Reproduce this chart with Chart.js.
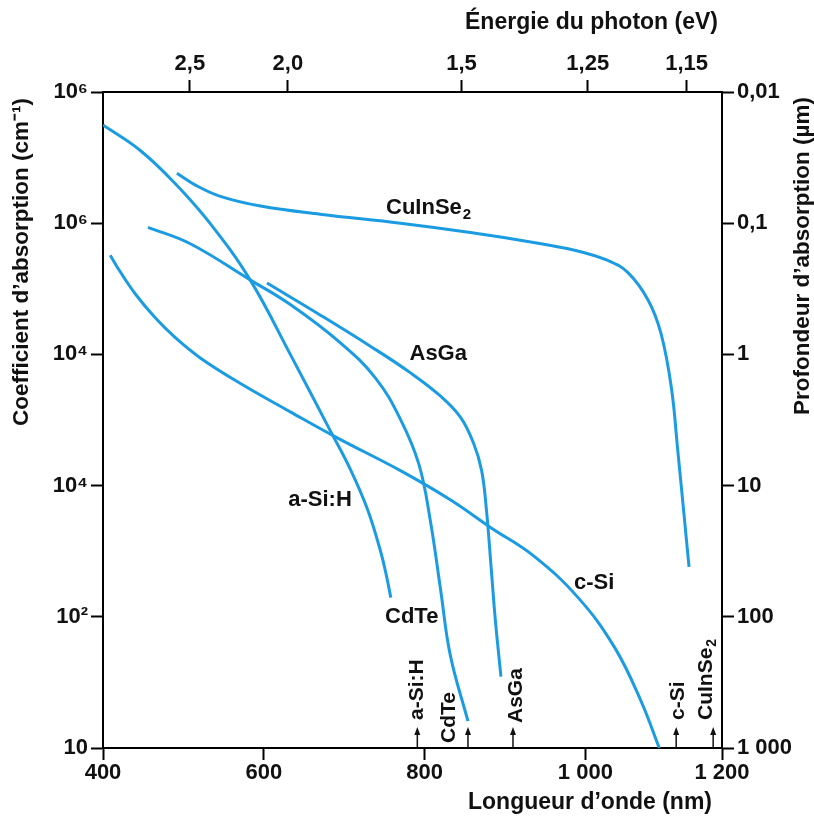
<!DOCTYPE html>
<html>
<head>
<meta charset="utf-8">
<script src="https://cdn.jsdelivr.net/npm/chart.js@4.4.0/dist/chart.umd.min.js"></script>
<style>
  html, body { margin: 0; padding: 0; background: #fff; }
</style>
</head>
<body>
<canvas id="absorption" width="814" height="821"></canvas>
<script>
// wavelength (nm) / absorption coefficient (cm-1)
const aSiHNm = [400, 446, 490, 533, 583, 633, 683, 708, 729, 745, 753, 758];
const aSiHAlpha = [5.6e5, 3.6e5, 2.0e5, 1.0e5, 3.7e4, 1.0e4, 2.6e3, 1.32e3, 660, 320, 200, 140];

const cuInSe2Nm = [492, 515, 546, 596, 670, 770, 857, 932, 988, 1028, 1053, 1078, 1094, 1107, 1115, 1123, 1129];
const cuInSe2Alpha = [2.4e5, 1.95e5, 1.6e5, 1.35e5, 1.17e5, 1.0e5, 8.5e4, 7.2e4, 6.2e4, 5.2e4, 4.2e4, 2.6e4, 1.45e4, 5.6e3, 1.85e3, 580, 240];

const cdTeNm = [456, 508, 583, 633, 695, 739, 770, 793, 807, 820, 832, 854];
const cdTeAlpha = [9.3e4, 7.0e4, 3.7e4, 2.4e4, 1.23e4, 6.6e3, 3.2e3, 1.45e3, 550, 160, 51, 16];

const asGaNm = [604, 670, 733, 783, 820, 845, 861, 871, 877, 883, 888, 895];
const asGaAlpha = [3.5e4, 2.0e4, 1.15e4, 7.2e3, 4.8e3, 3.3e3, 2.1e3, 1.3e3, 650, 230, 95, 35];

const cSiNm = [409, 421, 440, 465, 490, 521, 571, 633, 692, 770, 832, 882, 936, 991, 1036, 1069, 1092];
const cSiAlpha = [5.7e4, 4.3e4, 2.9e4, 1.9e4, 1.34e4, 9.4e3, 6.0e3, 3.65e3, 2.3e3, 1.3e3, 780, 480, 290, 140, 59, 23, 10];

// axes
const wavelengthTicks = [400, 600, 800, 1000, 1170];
const wavelengthLabels = ['400', '600', '800', '1 000', '1 200'];
const energyTicksNm = [508, 630, 846, 1003, 1126];
const energyLabels = ['2,5', '2,0', '1,5', '1,25', '1,15'];
const alphaTicks = [10, 100, 1000, 10000, 100000, 1000000];
const alphaLabels = ['10', '10²', '10⁴', '10⁴', '10⁶', '10⁶'];
const depthLabels = ['1 000', '100', '10', '1', '0,1', '0,01'];

// band gap arrows along the bottom axis
const gapMaterials = ['a-Si:H', 'CdTe', 'AsGa', 'c-Si', 'CuInSe2'];
const gapNm = [791, 854, 910, 1113, 1159];

const FONT = '"Liberation Sans", Arial, sans-serif';
const BLUE = '#1b9ce2';
const INK = '#111';

function toPoints(xs, ys) {
    return xs.map(function (x, i) { return { x: x, y: ys[i] }; });
}

function curve(label, xs, ys) {
    return {
        label: label,
        data: toPoints(xs, ys),
        showLine: true,
        borderColor: BLUE,
        borderWidth: 3,
        pointRadius: 0,
        tension: 0.4,
        fill: false
    };
}

// draws "main" + subscript, starting at x (textAlign left)
function drawWithSub(ctx, main, sub, x, y, size) {
    ctx.font = 'bold ' + size + 'px ' + FONT;
    ctx.fillText(main, x, y);
    if (sub) {
        let w = ctx.measureText(main).width;
        ctx.font = 'bold ' + Math.round(size * 0.68) + 'px ' + FONT;
        ctx.fillText(sub, x + w + 1, y + size * 0.28);
    }
}

function textWidth(ctx, main, sub, size) {
    ctx.font = 'bold ' + size + 'px ' + FONT;
    let w = ctx.measureText(main).width;
    if (sub) {
        ctx.font = 'bold ' + Math.round(size * 0.68) + 'px ' + FONT;
        w += ctx.measureText(sub).width + 1;
    }
    return w;
}

function rotatedTitle(ctx, text, x, yEnd) {
    ctx.save();
    ctx.translate(x, yEnd);
    ctx.rotate(-Math.PI / 2);
    ctx.textAlign = 'right';
    ctx.font = 'bold 22.5px ' + FONT;
    ctx.fillText(text, 0, 0);
    ctx.restore();
}

const annotations = {
    id: 'annotations',
    afterDatasetsDraw(chart) {
        const ctx = chart.ctx;
        const x = chart.scales.x;
        const y = chart.scales.y;
        const area = chart.chartArea;
        ctx.save();
        ctx.fillStyle = INK;
        ctx.strokeStyle = INK;
        ctx.textBaseline = 'middle';
        ctx.textAlign = 'left';

        // curve names
        const names = [
            ['CuInSe', '2', 805, 1.3e5],
            ['AsGa', '', 817, 1.0e4],
            ['a-Si:H', '', 670, 780],
            ['CdTe', '', 784, 100],
            ['c-Si', '', 1011, 180]
        ];
        names.forEach(function (n) {
            const w = textWidth(ctx, n[0], n[1], 22);
            drawWithSub(ctx, n[0], n[1], x.getPixelForValue(n[2]) - w / 2, y.getPixelForValue(n[3]), 22);
        });

        // band gap arrows + vertical names
        const textShift = [0, -19, 3, 2, -7];
        const textBottom = [720, 743, 723, 720, 720];
        gapNm.forEach(function (nm, i) {
            const px = x.getPixelForValue(nm);
            ctx.lineWidth = 1.5;
            ctx.beginPath();
            ctx.moveTo(px, area.bottom);
            ctx.lineTo(px, area.bottom - 16);
            ctx.stroke();
            ctx.beginPath();
            ctx.moveTo(px, area.bottom - 21);
            ctx.lineTo(px - 3, area.bottom - 13);
            ctx.lineTo(px + 3, area.bottom - 13);
            ctx.closePath();
            ctx.fill();

            let main = gapMaterials[i];
            let sub = '';
            if (main === 'CuInSe2') { main = 'CuInSe'; sub = '2'; }
            ctx.save();
            ctx.translate(px + textShift[i], textBottom[i]);
            ctx.rotate(-Math.PI / 2);
            drawWithSub(ctx, main, sub, 0, 0, 21);
            ctx.restore();
        });

        // axis titles
        ctx.font = 'bold 23px ' + FONT;
        ctx.textAlign = 'right';
        ctx.fillText('\u00c9nergie du photon (eV)', 718, 23);
        ctx.fillText('Longueur d\u2019onde (nm)', 712, 803);
        rotatedTitle(ctx, 'Coefficient d\u2019absorption (cm\u207b\u00b9)', 22, 98);
        rotatedTitle(ctx, 'Profondeur d\u2019absorption (\u00b5m)', 803, 97);

        ctx.restore();
    }
};

const tickFont = { family: FONT, size: 22, weight: 'bold' };
const axisGrid = { drawOnChartArea: false, color: '#000', tickLength: 12, tickWidth: 2 };
const axisBorder = { color: '#000', width: 2 };

let absorptionCanvas = document.getElementById('absorption');
let absorptionChart = new Chart(absorptionCanvas, {
    type: 'scatter',
    data: {
        datasets: [
            curve('a-Si:H', aSiHNm, aSiHAlpha),
            curve('CuInSe2', cuInSe2Nm, cuInSe2Alpha),
            curve('CdTe', cdTeNm, cdTeAlpha),
            curve('AsGa', asGaNm, asGaAlpha),
            curve('c-Si', cSiNm, cSiAlpha)
        ]
    },
    options: {
        responsive: false,
        animation: false,
        layout: { padding: 0 },
        plugins: {
            legend: { display: false },
            tooltip: { enabled: false }
        },
        scales: {
            x: {
                type: 'linear',
                position: 'bottom',
                min: 400,
                max: 1170,
                afterBuildTicks: function (scale) {
                    scale.ticks = wavelengthTicks.map(function (v) { return { value: v }; });
                },
                afterFit: function (scale) { scale.height = 73; },
                ticks: {
                    font: tickFont, color: INK, padding: 0, maxRotation: 0, autoSkip: false,
                    callback: function (value, index) { return wavelengthLabels[index]; }
                },
                grid: axisGrid,
                border: axisBorder
            },
            xTop: {
                type: 'linear',
                position: 'top',
                min: 400,
                max: 1170,
                afterBuildTicks: function (scale) {
                    scale.ticks = energyTicksNm.map(function (v) { return { value: v }; });
                },
                afterFit: function (scale) { scale.height = 92; },
                ticks: {
                    font: tickFont, color: INK, padding: 3, maxRotation: 0, autoSkip: false,
                    callback: function (value, index) { return energyLabels[index]; }
                },
                grid: axisGrid,
                border: axisBorder
            },
            y: {
                type: 'logarithmic',
                position: 'left',
                min: 10,
                max: 1000000,
                afterBuildTicks: function (scale) {
                    scale.ticks = alphaTicks.map(function (v) { return { value: v }; });
                },
                afterFit: function (scale) { scale.width = 103; },
                ticks: {
                    font: tickFont, color: INK, padding: 3, autoSkip: false,
                    callback: function (value, index) { return alphaLabels[index]; }
                },
                grid: axisGrid,
                border: axisBorder
            },
            yRight: {
                type: 'logarithmic',
                position: 'right',
                min: 10,
                max: 1000000,
                afterBuildTicks: function (scale) {
                    scale.ticks = alphaTicks.map(function (v) { return { value: v }; });
                },
                afterFit: function (scale) { scale.width = 92; },
                ticks: {
                    font: tickFont, color: INK, padding: 3, autoSkip: false,
                    callback: function (value, index) { return depthLabels[index]; }
                },
                grid: axisGrid,
                border: axisBorder
            }
        }
    },
    plugins: [annotations]
});
</script>
</body>
</html>
